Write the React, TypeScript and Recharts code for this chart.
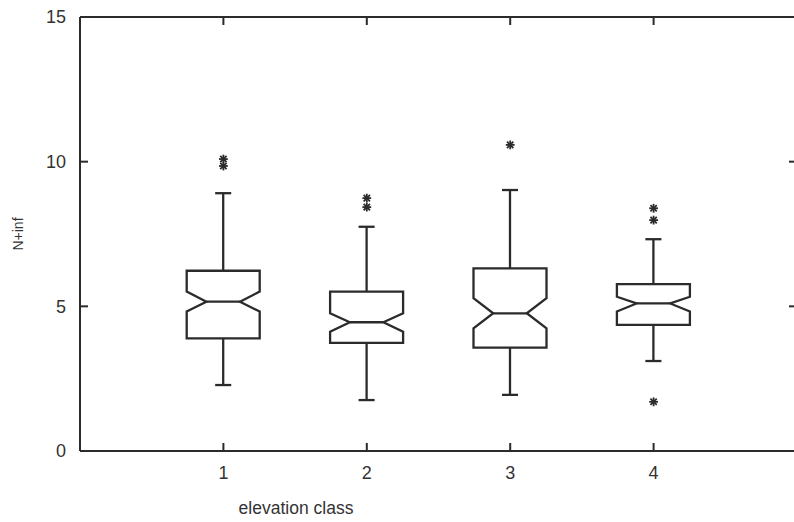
import { ComposedChart, Bar, Scatter, XAxis, YAxis } from 'recharts';

const classes = [1, 2, 3, 4];
const whiskerLow = [2.28, 1.76, 1.94, 3.11];
const q1 = [3.89, 3.74, 3.57, 4.36];
const notchLow = [4.82, 4.12, 4.24, 4.82];
const median = [5.16, 4.45, 4.76, 5.1];
const notchHigh = [5.51, 4.76, 5.28, 5.33];
const q3 = [6.23, 5.51, 6.31, 5.77];
const whiskerHigh = [8.91, 7.75, 9.02, 7.32];

const outlierClass = [1, 1, 2, 2, 3, 4, 4, 4];
const outlierValue = [10.09, 9.85, 8.74, 8.43, 10.58, 8.39, 7.98, 1.7];

const xTicks = [1, 2, 3, 4];
const yTicks = [0, 5, 10, 15];
const xDomain = [0, 5];
const yDomain = [0, 15];

const boxes = classes.map((x, i) => ({
  x,
  whiskerLow: whiskerLow[i],
  q1: q1[i],
  notchLow: notchLow[i],
  median: median[i],
  notchHigh: notchHigh[i],
  q3: q3[i],
  whiskerHigh: whiskerHigh[i],
}));

const outliers = outlierClass.map((x, i) => ({ x, y: outlierValue[i] }));

// inward tick marks on all four sides of the frame
const frameTicks = [
  ...xTicks.map((x) => ({ x, y: yDomain[0], side: 'bottom' })),
  ...xTicks.map((x) => ({ x, y: yDomain[1], side: 'top' })),
  ...yTicks.map((y) => ({ x: xDomain[0], y, side: 'left' })),
  ...yTicks.map((y) => ({ x: xDomain[1], y, side: 'right' })),
];

const INK = '#2b2b2b';
const TEXT = '#333';
const FONT = '"Liberation Sans", Arial, sans-serif';
const TICK_LEN = 8;
const TICK_DIR: Record<string, [number, number]> = {
  bottom: [0, -1],
  top: [0, 1],
  left: [1, 0],
  right: [-1, 0],
};

// notched box drawn inside the bar spanning lower..upper whisker
const NotchedBox = (props: any) => {
  const { x, y, width, height, payload } = props;
  if (x == null || y == null) return null;
  const lo = payload.whiskerLow;
  const hi = payload.whiskerHigh;
  const top = Math.min(y, y + height);
  const k = Math.abs(height) / (hi - lo);
  const py = (v: number) => top + (hi - v) * k;
  const left = x;
  const right = x + width;
  const cx = x + width / 2;
  const inset = width * 0.27;
  const cap = width * 0.11;
  const d = [
    `M${left},${py(payload.q3)}`,
    `H${right}`,
    `V${py(payload.notchHigh)}`,
    `L${right - inset},${py(payload.median)}`,
    `L${right},${py(payload.notchLow)}`,
    `V${py(payload.q1)}`,
    `H${left}`,
    `V${py(payload.notchLow)}`,
    `L${left + inset},${py(payload.median)}`,
    `L${left},${py(payload.notchHigh)}`,
    'Z',
  ].join(' ');
  return (
    <g stroke={INK} strokeWidth={2.3} fill="none">
      <path d={d} strokeLinejoin="miter" />
      <line x1={left + inset} x2={right - inset} y1={py(payload.median)} y2={py(payload.median)} />
      <line x1={cx} x2={cx} y1={py(payload.q3)} y2={py(hi)} />
      <line x1={cx - cap} x2={cx + cap} y1={py(hi)} y2={py(hi)} />
      <line x1={cx} x2={cx} y1={py(payload.q1)} y2={py(lo)} />
      <line x1={cx - cap} x2={cx + cap} y1={py(lo)} y2={py(lo)} />
    </g>
  );
};

const Star = (props: any) => {
  const { cx, cy } = props;
  if (cx == null || cy == null) return null;
  const r = 4.4;
  const c = r * 0.72;
  return (
    <g stroke={INK} strokeWidth={1.8}>
      <line x1={cx} x2={cx} y1={cy - r} y2={cy + r} />
      <line x1={cx - r} x2={cx + r} y1={cy} y2={cy} />
      <line x1={cx - c} x2={cx + c} y1={cy - c} y2={cy + c} />
      <line x1={cx - c} x2={cx + c} y1={cy + c} y2={cy - c} />
    </g>
  );
};

const TickMark = (props: any) => {
  const { cx, cy, payload } = props;
  if (cx == null || cy == null) return null;
  const [dx, dy] = TICK_DIR[payload.side];
  return (
    <line
      x1={cx}
      y1={cy}
      x2={cx + dx * TICK_LEN}
      y2={cy + dy * TICK_LEN}
      stroke={INK}
      strokeWidth={2}
    />
  );
};

const lineStyle = { stroke: INK, strokeWidth: 2 };

export default function App() {
  return (
    <div
      style={{
        position: 'absolute',
        left: 0,
        top: 0,
        width: 794,
        height: 522,
        overflow: 'hidden',
        background: '#fff',
        fontFamily: FONT,
      }}
    >
      <ComposedChart
        width={810}
        height={522}
        data={boxes}
        margin={{ top: 17, right: 13, left: 0, bottom: 0 }}
      >
        <XAxis
          dataKey="x"
          type="number"
          domain={xDomain}
          ticks={xTicks}
          height={71}
          tickSize={0}
          tickMargin={15}
          tickLine={false}
          axisLine={lineStyle}
          tick={{ fill: TEXT, fontSize: 18, fontFamily: FONT }}
          label={{
            value: 'elevation class',
            content: ({ viewBox }: any) => (
              <text
                x={viewBox.x + 216}
                y={viewBox.y + 63}
                textAnchor="middle"
                fill={TEXT}
                fontSize={17.5}
                fontFamily={FONT}
              >
                elevation class
              </text>
            ),
          }}
        />
        <XAxis
          xAxisId="top"
          dataKey="x"
          orientation="top"
          type="number"
          domain={xDomain}
          ticks={xTicks}
          mirror
          height={1}
          tick={false}
          tickLine={false}
          axisLine={lineStyle}
        />
        <YAxis
          type="number"
          domain={yDomain}
          ticks={yTicks}
          width={80}
          tickSize={0}
          tickMargin={14}
          tickLine={false}
          axisLine={lineStyle}
          tick={{ fill: TEXT, fontSize: 18, fontFamily: FONT }}
          label={{
            value: 'N+inf',
            content: ({ viewBox }: any) => {
              const lx = viewBox.x + 18;
              const ly = viewBox.y + viewBox.height / 2;
              return (
                <text
                  x={lx}
                  y={ly}
                  transform={`rotate(-90, ${lx}, ${ly})`}
                  textAnchor="middle"
                  dominantBaseline="central"
                  fill={TEXT}
                  fontSize={14}
                  fontFamily={FONT}
                >
                  N+inf
                </text>
              );
            },
          }}
        />
        <YAxis
          yAxisId="right"
          orientation="right"
          type="number"
          domain={yDomain}
          ticks={yTicks}
          mirror
          width={1}
          tick={false}
          tickLine={false}
          axisLine={lineStyle}
        />
        <Bar
          dataKey={(d: any) => [d.whiskerLow, d.whiskerHigh]}
          barSize={73}
          shape={<NotchedBox />}
          isAnimationActive={false}
        />
        <Scatter name="outliers" data={outliers} dataKey="y" shape={<Star />} isAnimationActive={false} />
        <Scatter name="frame" data={frameTicks} dataKey="y" shape={<TickMark />} isAnimationActive={false} />
      </ComposedChart>
    </div>
  );
}
